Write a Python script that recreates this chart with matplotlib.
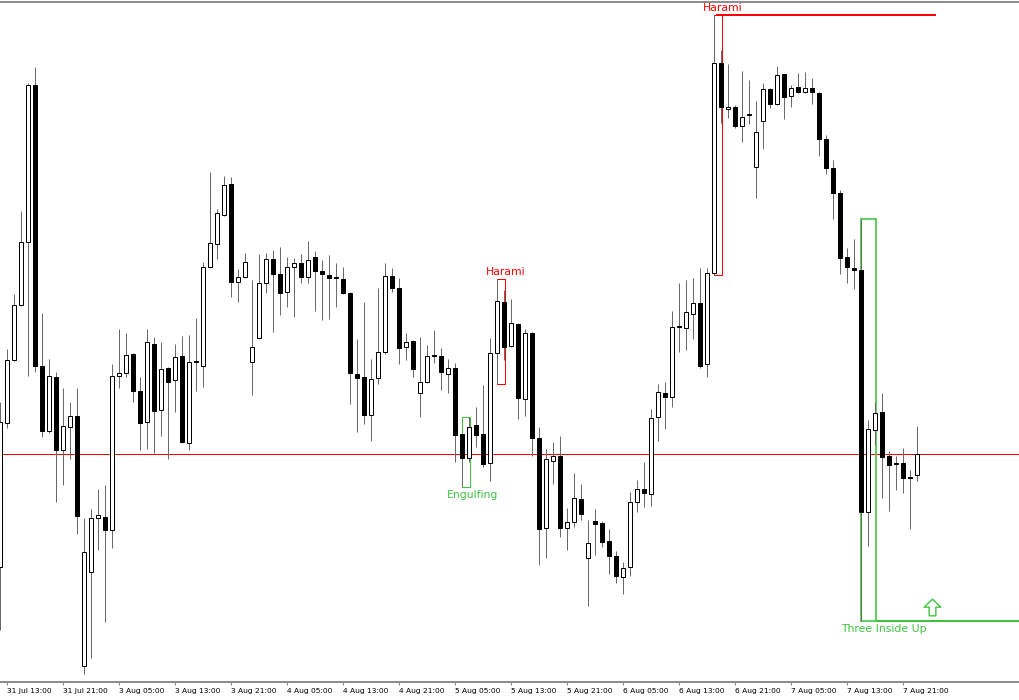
import numpy as np
import matplotlib
matplotlib.use("Agg")
import matplotlib.pyplot as plt
from matplotlib.patches import Rectangle
from matplotlib.path import Path

# ---------------- data (H1 candles, arbitrary price units) ----------------
opens = [133, 277, 340, 395, 458, 615, 334, 269, 323, 250, 273, 284, 34, 128, 182, 183,
         170, 324, 327, 346, 309, 278, 356, 290, 332, 320, 344, 257, 338, 334, 433, 456,
         485, 516, 418, 423, 338, 362, 417, 441, 426, 408, 433, 437, 423, 443, 429, 425,
         423, 421, 407, 326, 323, 285, 322, 348, 424, 412, 353, 359, 307, 318, 345, 344,
         326, 332, 266, 242, 275, 266, 237, 347, 398, 354, 376, 301, 367, 262, 172, 239,
         244, 172, 178, 201, 142, 179, 177, 159, 144, 123, 133, 198, 211, 206, 283, 307,
         303, 374, 372, 386, 397, 336, 427, 637, 591, 593, 574, 586, 533, 579, 611, 596,
         626, 604, 613, 608, 612, 607, 561, 532, 507, 443, 432, 430, 188, 270, 288, 244,
         237, 237, 223, 225]
highs = [298, 351, 406, 489, 617, 633, 387, 341, 328, 312, 298, 312, 182, 191, 211, 215,
         336, 371, 367, 347, 323, 371, 363, 358, 333, 356, 364, 365, 382, 438, 528, 491,
         524, 523, 431, 447, 420, 446, 447, 450, 453, 443, 442, 446, 459, 449, 440, 445,
         437, 433, 408, 361, 398, 341, 412, 437, 432, 422, 367, 360, 363, 355, 370, 352,
         341, 337, 267, 283, 293, 315, 362, 421, 410, 401, 377, 371, 368, 273, 251, 258,
         264, 192, 227, 216, 180, 191, 179, 171, 149, 138, 208, 220, 238, 291, 316, 318,
         389, 417, 420, 422, 432, 432, 685, 650, 636, 595, 629, 620, 599, 617, 612, 634,
         626, 615, 627, 628, 622, 608, 565, 540, 510, 452, 461, 481, 280, 298, 307, 249,
         244, 252, 230, 274]
lows = [70, 272, 339, 394, 324, 328, 263, 267, 198, 215, 241, 166, 26, 42, 150, 78,
        152, 312, 323, 298, 250, 251, 247, 264, 241, 288, 257, 250, 309, 313, 432, 441,
        484, 403, 398, 422, 305, 361, 407, 368, 385, 393, 383, 417, 417, 389, 380, 381,
        393, 406, 296, 268, 276, 259, 316, 346, 408, 336, 340, 323, 283, 317, 337, 310,
        307, 238, 213, 238, 253, 233, 219, 316, 340, 353, 281, 284, 244, 135, 142, 216,
        163, 150, 173, 180, 94, 145, 153, 126, 117, 106, 124, 188, 193, 194, 259, 271,
        293, 348, 350, 361, 332, 323, 425, 577, 582, 572, 558, 576, 502, 551, 592, 595,
        581, 593, 607, 607, 596, 544, 526, 481, 426, 417, 411, 79, 154, 255, 202, 189,
        210, 207, 171, 219]
closes = [278, 340, 395, 458, 615, 334, 269, 324, 250, 274, 284, 184, 148, 182, 185, 170,
          324, 327, 345, 309, 277, 358, 289, 331, 318, 343, 258, 338, 339, 433, 457, 487,
          515, 418, 423, 438, 353, 417, 441, 426, 407, 433, 437, 423, 440, 429, 426, 422,
          422, 407, 327, 322, 285, 321, 348, 424, 412, 352, 358, 331, 318, 344, 344, 328,
          332, 265, 242, 273, 265, 236, 347, 399, 353, 377, 302, 367, 262, 171, 241, 244,
          172, 178, 202, 186, 157, 176, 158, 144, 124, 132, 198, 211, 207, 282, 308, 303,
          373, 373, 388, 397, 334, 427, 637, 593, 593, 574, 583, 585, 568, 611, 596, 625,
          603, 612, 608, 612, 608, 561, 532, 507, 442, 433, 430, 188, 271, 287, 243, 235,
          236, 222, 222, 246]

tick_labels = ["31 Jul 13:00", "31 Jul 21:00", "3 Aug 05:00", "3 Aug 13:00", "3 Aug 21:00",
               "4 Aug 05:00", "4 Aug 13:00", "4 Aug 21:00", "5 Aug 05:00", "5 Aug 13:00",
               "5 Aug 21:00", "6 Aug 05:00", "6 Aug 13:00", "6 Aug 21:00", "7 Aug 05:00",
               "7 Aug 13:00", "7 Aug 21:00"]
tick_bars = list(range(1, 130, 8))

price_level = 246

# candlestick patterns
pattern_names = ["Engulfing", "Harami", "Harami", "Three Inside Up"]
pattern_first = [66, 71, 102, 123]
pattern_last = [67, 72, 103, 125]
pattern_colors = ["#3ec43e", "#ff0000", "#ff0000", "#3ec43e"]
pattern_side = ["below", "above", "above", "below"]
pattern_label_dx = [0.4, 0.2, 0.2, 1.2]
pattern_width = [1.0, 1.0, 1.0, 1.6]

GREEN = "#3ec43e"
RED = "#ff0000"

# ---------------- figure ----------------
W, H = 1020, 700
fig = plt.figure(figsize=(W / 100, H / 100), dpi=100)
ax = fig.add_axes([0, 18 / H, 1, 680 / H])
ax.set_xlim(-0.043, 145.67)
ax.set_ylim(18, 698)

o = np.array(opens, float)
h = np.array(highs, float)
l = np.array(lows, float)
c = np.array(closes, float)
x = np.arange(len(o))
bull = c >= o

px = 0.72  # one pixel in points

ax.axhline(price_level, color=RED, lw=px, zorder=1)

ax.vlines(x, l, h, color="#6a6a6a", lw=px, zorder=2)
bottom = np.minimum(o, c)
height = np.maximum(np.abs(c - o), 1.0)
ax.bar(x[bull], height[bull], bottom=bottom[bull], width=0.55,
       color="white", edgecolor="black", linewidth=px, zorder=3)
ax.bar(x[~bull], height[~bull], bottom=bottom[~bull], width=0.55,
       color="black", edgecolor="black", linewidth=px, zorder=3)

# patterns
for name, f, la, col, side, dx, lw in zip(pattern_names, pattern_first, pattern_last,
                                          pattern_colors, pattern_side, pattern_label_dx,
                                          pattern_width):
    top = h[f:la + 1].max()
    low = l[f:la + 1].min()
    x0, x1 = f, la + 0.1
    ax.add_patch(Rectangle((x0, low), x1 - x0, top - low, fill=False,
                           edgecolor=col, lw=lw * px, zorder=1.5))
    if side == "above":
        ty = top + 7
    else:
        ty = low - 8
    ax.text(la + dx, ty, name, color=col, fontsize=7.8, ha="center", va="center",
            zorder=5)

# extension lines of the last two patterns
top_h = h[102:104].max()
ax.plot([102.2, 133.7], [top_h, top_h], color=RED, lw=2 * px, zorder=4,
        solid_capstyle="butt")
low_t = l[123:126].min()
ax.plot([125.1, 146], [low_t, low_t], color=GREEN, lw=2 * px, zorder=4,
        solid_capstyle="butt")

# hollow up arrow marker
verts = [(0, 0.5), (-0.5, 0.02), (-0.2, 0.02), (-0.2, -0.5), (0.2, -0.5),
         (0.2, 0.02), (0.5, 0.02), (0, 0.5)]
codes = [Path.MOVETO] + [Path.LINETO] * 6 + [Path.CLOSEPOLY]
arrow = Path(verts, codes)
ax.plot([len(o) + 1.1], [low_t + 14], marker=arrow, markersize=12,
        markerfacecolor="white", markeredgecolor=GREEN, markeredgewidth=1.0,
        linestyle="none", zorder=5)

# axes styling
for s in ("left", "right"):
    ax.spines[s].set_visible(False)
for s in ("top", "bottom"):
    ax.spines[s].set_color("#8a8a8a")
    ax.spines[s].set_linewidth(1.4)
ax.set_yticks([])
ax.set_xticks(tick_bars)
ax.set_xticklabels(tick_labels, fontsize=5.4, ha="left")
ax.tick_params(axis="x", direction="out", length=2.5, width=0.8, color="#8a8a8a",
               pad=1.5, labelcolor="black")

fig.savefig("out.png", dpi=100)
